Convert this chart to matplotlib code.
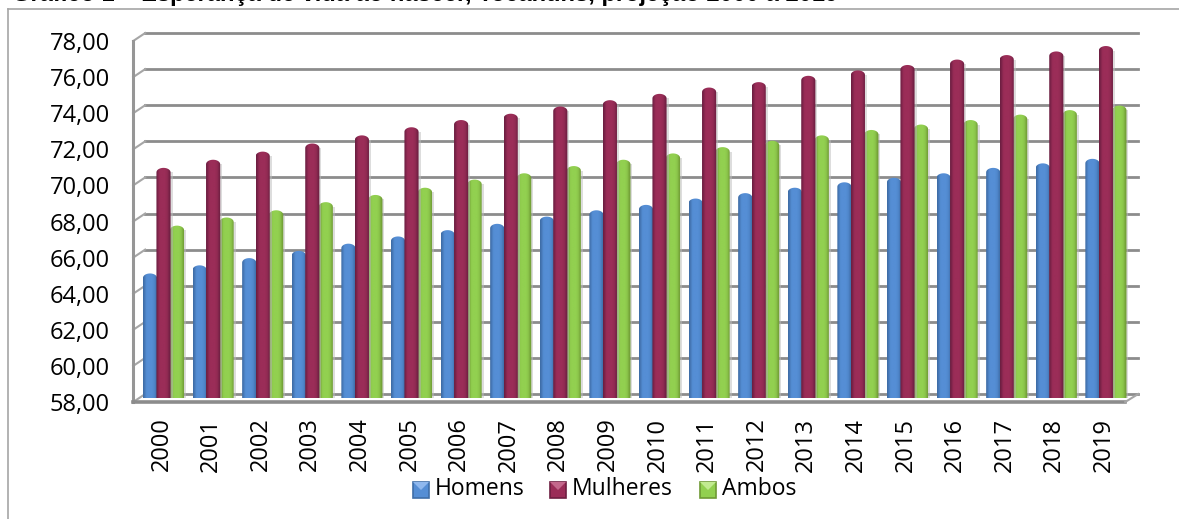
import numpy as np
import matplotlib
matplotlib.use('Agg')
import matplotlib.pyplot as plt
from matplotlib.colors import LinearSegmentedColormap
from matplotlib.patches import Rectangle, Polygon

anos = list(range(2000, 2020))
homens = [64.9, 65.35, 65.75, 66.15, 66.55, 66.95, 67.3, 67.65, 68.05, 68.4,
          68.7, 69.05, 69.35, 69.65, 69.95, 70.2, 70.45, 70.75, 71.0, 71.25]
mulheres = [70.75, 71.2, 71.65, 72.1, 72.55, 73.0, 73.4, 73.75, 74.15, 74.5,
            74.85, 75.2, 75.5, 75.85, 76.15, 76.45, 76.75, 77.0, 77.2, 77.5]
ambos = [67.55, 68.0, 68.4, 68.85, 69.25, 69.65, 70.1, 70.45, 70.85, 71.2,
         71.55, 71.9, 72.25, 72.55, 72.85, 73.15, 73.4, 73.7, 73.95, 74.2]
ticks = list(range(58, 80, 2))
nomes = ['Homens', 'Mulheres', 'Ambos']
# escuro, medio, claro de cada serie
cores = [('#3f6ea8', '#558ed5', '#8fb8ee'),
         ('#6e1f42', '#9b2d58', '#c4688c'),
         ('#6f9a35', '#92d050', '#c2ea90')]

W, H = 1179, 519
fig = plt.figure(figsize=(W / 100, H / 100), dpi=100)

# plano do meio das barras em pixels: x 139..1131, 58 em y=398, 78 em y=37
px_x = 992 / 20
px_y = 361 / 20
ax = fig.add_axes([139.2 / W, 1 - 398 / H, 992 / W, 361 / H])
ax.patch.set_alpha(0)
for s in ax.spines.values():
    s.set_visible(False)
ax.set_xticks([])
ax.set_yticks([])

# parede do fundo e piso
dy = 4 / px_y
x_fr, x_fu = -6 / px_x, 6 / px_x
x_fr2, x_fu2 = 20 - 6 / px_x, 20 + 7 / px_x
for t in ticks:
    ax.plot([x_fu, x_fu2], [t + dy, t + dy], color='#8c8c8c', lw=2.0, zorder=1, clip_on=False)
    ax.plot([x_fr, x_fu], [t - dy, t + dy], color='#a6a6a6', lw=1.5, zorder=1, clip_on=False)
    ax.text(-29.5 / px_x, t - 0.39, '%d,00' % t, ha='right', va='center', fontsize=17,
            family='Open Sans', color='black')
ax.plot([x_fr, x_fr], [58 - dy, 78 - dy], color='#969696', lw=2.2, zorder=1, clip_on=False)
ax.plot([x_fr, x_fr2], [58 - dy, 58 - dy], color='#8c8c8c', lw=2.6, zorder=1, clip_on=False)
ax.plot([x_fr2, x_fu2], [58 - dy, 58 + dy], color='#a6a6a6', lw=1.5, zorder=1, clip_on=False)

largura = 0.285
desloc = [-0.272, 0.0, 0.272]
grad = np.array([0.0, 0.45, 0.9, 1.0, 1.0, 1.0, 1.0, 0.9, 0.7, 0.3, 0.0])[None, :]
ang = np.linspace(0, np.pi, 24)
raio_y = 4.5 / px_y

for j, serie in enumerate([homens, mulheres, ambos]):
    cmap = LinearSegmentedColormap.from_list('c', [cores[j][0], cores[j][1]])
    for i, v in enumerate(serie):
        xc = i + 0.5 + desloc[j] - 0.01
        x0, x1 = xc - largura / 2, xc + largura / 2
        # serie do meio fica na frente das outras
        z = {0: 3, 1: 5, 2: 4}[j] + i * 0.01
        # sombra leve a direita
        ax.add_patch(Rectangle((x1 - 0.02, 58), 0.06, v - 58 - raio_y, color='#bdbdbd',
                               alpha=0.5, lw=0, zorder=z - 0.2))
        topo = v - raio_y
        contorno = np.column_stack([
            np.concatenate([[x1], xc + np.cos(ang) * largura / 2, [x0]]),
            np.concatenate([[58], topo + np.sin(ang) * raio_y, [58]])])
        im = ax.imshow(grad, extent=[x0, x1, 58, v], cmap=cmap, aspect='auto',
                       vmin=0, vmax=1, zorder=z, interpolation='bilinear')
        im.set_clip_path(Polygon(contorno, closed=True, transform=ax.transData))
ax.set_xlim(0, 20)
ax.set_ylim(58, 78)

for i, a in enumerate(anos):
    ax.text(i + 0.45, 58 - 19.5 / px_y, str(a), rotation=90, ha='center', va='top',
            fontsize=17, family='Open Sans', color='black')

# legenda feita a mao para os marcadores quadrados
leg_x = [413, 550, 700]
leg_txt = [435, 572, 722]
for k, n in enumerate(nomes):
    x0, y0 = leg_x[k] / W, 1 - 498 / H
    w, h = 16 / W, 16 / H
    fig.add_artist(Rectangle((x0, y0), w, h, transform=fig.transFigure,
                             facecolor=cores[k][1], edgecolor=cores[k][0], lw=1.2))
    fig.add_artist(Polygon([[x0, y0 + h], [x0 + w, y0 + h], [x0 + w / 2, y0 + h / 2]],
                           transform=fig.transFigure, facecolor=cores[k][2], lw=0))
    fig.text(leg_txt[k] / W, 1 - 489 / H, n, fontsize=16.5, family='Open Sans', va='center', ha='left')

# moldura do grafico
fig.add_artist(plt.Line2D([8 / W, 1179 / W], [1 - 9 / H, 1 - 9 / H], color='#a6a6a6', lw=1.2))
fig.add_artist(plt.Line2D([8 / W, 8 / W], [1 - 9 / H, 1 - 519 / H], color='#a6a6a6', lw=1.2))

# titulo cortado pela borda de cima, como no original
fig.text(12 / W, 1 - 1 / H, 'Gráfico 1 – Esperança de vida ao nascer, Tocantins, projeção 2000 a 2019',
         fontsize=17, fontweight='bold', family='Liberation Sans', va='baseline', ha='left')

fig.savefig('out.png', dpi=100)
